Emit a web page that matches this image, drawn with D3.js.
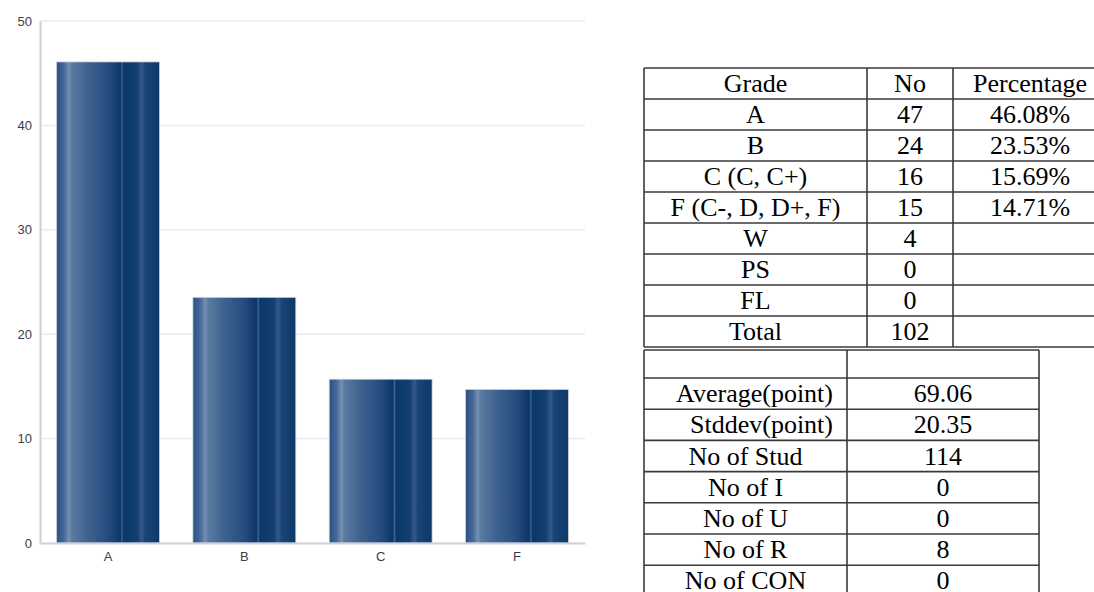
<!DOCTYPE html>
<html><head><meta charset="utf-8">
<script src="https://cdn.jsdelivr.net/npm/d3@7"></script>
<style>
html,body{margin:0;padding:0;background:#fff;overflow:hidden}
svg{display:block}
</style></head>
<body>
<svg id="c" width="1094" height="592"></svg>
<script>
const categories = ["A", "B", "C", "F"];
const values = [46.08, 23.53, 15.69, 14.71];
const yTicks = [0, 10, 20, 30, 40, 50];

const gradeHeader = ["Grade", "No", "Percentage"];
const gradeNames = ["A", "B", "C (C, C+)", "F (C-, D, D+, F)", "W", "PS", "FL", "Total"];
const gradeCounts = ["47", "24", "16", "15", "4", "0", "0", "102"];
const gradePcts = ["46.08%", "23.53%", "15.69%", "14.71%", "", "", "", ""];

const statNames = ["Average(point)", "Stddev(point)", "No of Stud", "No of I", "No of U", "No of R", "No of CON"];
const statValues = ["69.06", "20.35", "114", "0", "0", "8", "0"];

const svg = d3.select("#c");

// ---- bar chart ----
const x = d3.scaleBand().domain(categories).range([40, 585]).paddingInner(0.245).paddingOuter(0.122);
const y = d3.scaleLinear().domain([0, 50]).range([543, 21]);

const defs = svg.append("defs");
const g = defs.append("linearGradient").attr("id", "barg").attr("x1", "0").attr("x2", "1").attr("y1", "0").attr("y2", "0");
[[0, "#2b5181"], [0.07, "#44689a"], [0.12, "#7590b0"], [0.15, "#5a7aa0"], [0.3, "#3f6390"],
 [0.5, "#254c7e"], [0.62, "#0c3667"], [0.635, "#3e6290"], [0.65, "#0b386a"], [0.78, "#123e70"],
 [0.83, "#34598a"], [0.86, "#1a4475"], [1, "#0e3868"]].forEach(s => g.append("stop").attr("offset", s[0]).attr("stop-color", s[1]));

svg.append("g").selectAll("line").data(yTicks.slice(1)).join("line")
  .attr("x1", 40).attr("x2", 585).attr("y1", d => y(d)).attr("y2", d => y(d))
  .attr("stroke", "#e9e9ef").attr("stroke-width", 1.5);

svg.append("g").selectAll("rect").data(values).join("rect")
  .attr("x", (d, i) => x(categories[i])).attr("width", x.bandwidth())
  .attr("y", d => y(d)).attr("height", d => y(0) - y(d))
  .attr("fill", "url(#barg)").attr("stroke", "#c9d2de").attr("stroke-width", 0.8);

const yAxis = svg.append("g").attr("transform", "translate(40,0)")
  .call(d3.axisLeft(y).tickValues(yTicks).tickSize(0).tickPadding(8));
yAxis.select(".domain").attr("stroke", "#cdd0dc").attr("stroke-width", 2);
yAxis.selectAll("text").attr("font-family", "Liberation Sans, Arial, sans-serif").attr("font-size", 13).attr("fill", "#3c3c48");

const xAxis = svg.append("g").attr("transform", "translate(0,543)")
  .call(d3.axisBottom(x).tickSize(0).tickPadding(9));
xAxis.select(".domain").attr("stroke", "#cdd0dc").attr("stroke-width", 2);
xAxis.selectAll("text").attr("font-family", "Liberation Sans, Arial, sans-serif").attr("font-size", 13).attr("fill", "#3c3c48");

// ---- tables ----
const font = "Liberation Serif, 'Times New Roman', serif";
function drawTable(colEdges, top, rowHeights, rows, rightAlign) {
  const tg = svg.append("g");
  const right = colEdges[colEdges.length - 1];
  let ys = [top];
  rowHeights.forEach(h => ys.push(ys[ys.length - 1] + h));
  tg.selectAll("line.h").data(ys).join("line").attr("class", "h")
    .attr("x1", colEdges[0]).attr("x2", right).attr("y1", d => d).attr("y2", d => d)
    .attr("stroke", "#3a3a3a").attr("stroke-width", 1.6);
  tg.selectAll("line.v").data(colEdges).join("line").attr("class", "v")
    .attr("x1", d => d).attr("x2", d => d).attr("y1", top).attr("y2", ys[ys.length - 1])
    .attr("stroke", "#3a3a3a").attr("stroke-width", 1.6);
  rows.forEach((r, ri) => {
    r.forEach((t, ci) => {
      const ra = ci === 0 && rightAlign && rightAlign(t);
      tg.append("text")
        .attr("x", ra ? colEdges[ci + 1] - 14 : (colEdges[ci] + colEdges[ci + 1]) / 2)
        .attr("y", ys[ri] + rowHeights[ri] - 7)
        .attr("text-anchor", ra ? "end" : "middle").attr("font-family", font).attr("font-size", 26)
        .attr("fill", "#000").text(t);
    });
  });
}

const t1rows = [gradeHeader].concat(gradeNames.map((n, i) => [n, gradeCounts[i], gradePcts[i]]));
drawTable([644, 867, 953, 1107], 68, t1rows.map(() => 31), t1rows);

const t2rows = [["", ""]].concat(statNames.map((n, i) => [n, statValues[i]]));
drawTable([644, 847, 1039], 350, [28].concat(statNames.map(() => 31.2)), t2rows, t => t.indexOf("(point)") >= 0);
</script>
</body></html>
